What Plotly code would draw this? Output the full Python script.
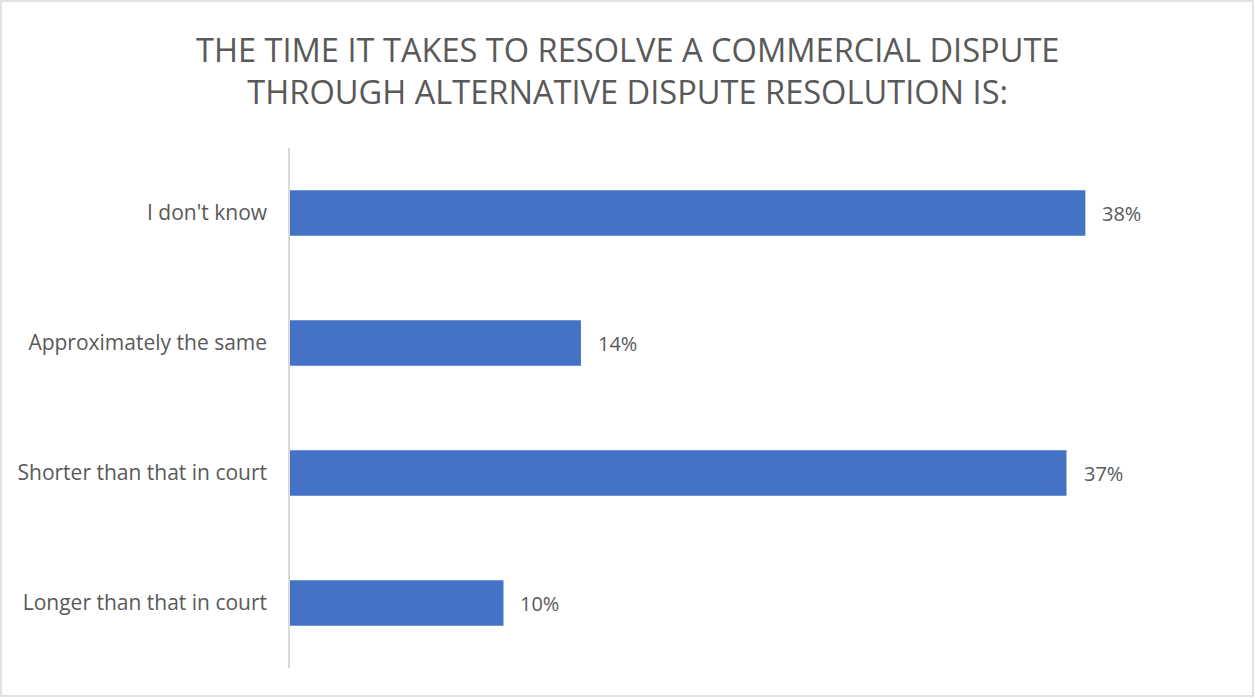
import plotly.graph_objects as go

categories = ["Longer than that in court", "Shorter than that in court",
              "Approximately the same", "I don't know"]
values = [10.2, 37.1, 13.9, 38.0]
labels = ["10%", "37%", "14%", "38%"]
title_text = ("THE TIME IT TAKES TO RESOLVE A COMMERCIAL DISPUTE<br>"
              "THROUGH ALTERNATIVE DISPUTE RESOLUTION IS:")

W, H = 1255, 698
ML, MR, MT, MB = 290, 65, 148, 30
font = "Open Sans"
gray = "#595959"

fig = go.Figure(go.Bar(
    y=categories, x=values, orientation="h",
    marker=dict(color="#4472C4", line=dict(width=0)),
    width=0.35, hoverinfo="skip",
))

annotations = [dict(x=v, y=c, xref="x", yref="y", text=t, showarrow=False,
                    xanchor="left", yanchor="middle", xshift=15,
                    font=dict(family=font, size=20, color=gray))
               for c, v, t in zip(categories, values, labels)]

pw = W - ML - MR
ph = H - MT - MB
annotations.append(dict(
    text=title_text, showarrow=False, xref="paper", yref="paper",
    x=(W / 2 - ML) / pw, y=(H - MB - 70) / ph, xanchor="center", yanchor="middle",
    align="center", font=dict(family=font, size=32.6, color=gray)))

fig.update_layout(
    width=W, height=H,
    margin=dict(l=ML, r=MR, t=MT, b=MB, pad=0),
    paper_bgcolor="white", plot_bgcolor="white",
    showlegend=False,
    annotations=annotations,
    xaxis=dict(range=[0, 43], visible=False, fixedrange=True),
    yaxis=dict(showline=True, linecolor="#d9d9d9", linewidth=1.5,
               ticks="", ticklabelstandoff=17,
               tickfont=dict(family=font, size=21, color=gray),
               showgrid=False, zeroline=False),
    shapes=[dict(type="rect", xref="paper", yref="paper",
                 x0=(1 - ML) / pw, x1=(W - 2 - ML) / pw,
                 y0=-(MB - 2) / ph, y1=(H - 1 - MB) / ph,
                 line=dict(color="#d9d9d9", width=1.5))],
)

fig.write_html("out.html")
